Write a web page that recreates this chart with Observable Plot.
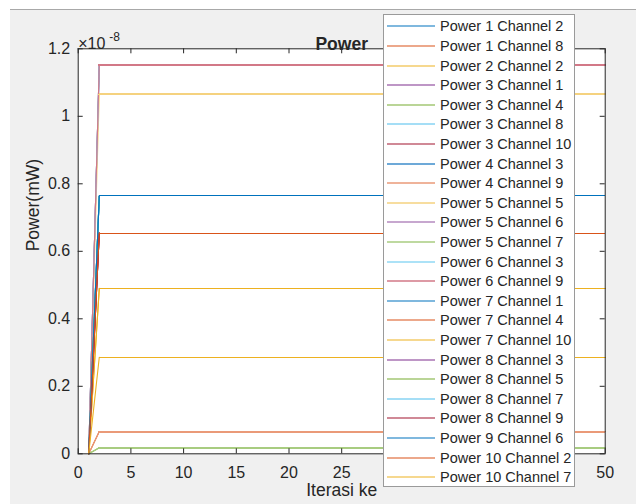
<!DOCTYPE html>
<html>
<head>
<meta charset="utf-8">
<script src="https://cdn.jsdelivr.net/npm/d3@7"></script>
<script src="https://cdn.jsdelivr.net/npm/@observablehq/plot@0.6"></script>
<style>
  html, body { margin: 0; padding: 0; background: #ffffff; }
  #wrap { position: relative; width: 636px; height: 504px; overflow: hidden; }
  #chart svg { display: block; background: #f0f0f0; }
  .strip { position: absolute; background: #ffffff; }
  #legend {
    position: absolute; left: 383px; top: 14px; width: 192px; height: 473px;
    background: #ffffff; border: 1px solid #9a9a9a; box-sizing: border-box;
    font-family: "Liberation Sans", Arial, sans-serif; font-size: 14.5px; color: #262626;
    padding-top: 1.5px;
  }
  .item { height: 19.62px; display: flex; align-items: center; white-space: nowrap; }
  .item svg { margin-left: 3px; margin-right: 5px; flex: none; }
</style>
</head>
<body>
<div id="wrap">
  <div id="chart"></div>
  <div class="strip" style="left:0;top:0;width:636px;height:9px;border-bottom:1px solid #a8a8a8;"></div>
  <div class="strip" style="left:0;top:0;width:10px;height:504px;"></div>
  <div id="legend"></div>
</div>
<script>
// ---- data ----
const series = [
  "Power 1 Channel 2", "Power 1 Channel 8", "Power 2 Channel 2", "Power 3 Channel 1",
  "Power 3 Channel 4", "Power 3 Channel 8", "Power 3 Channel 10", "Power 4 Channel 3",
  "Power 4 Channel 9", "Power 5 Channel 5", "Power 5 Channel 6", "Power 5 Channel 7",
  "Power 6 Channel 3", "Power 6 Channel 9", "Power 7 Channel 1", "Power 7 Channel 4",
  "Power 7 Channel 10", "Power 8 Channel 3", "Power 8 Channel 5", "Power 8 Channel 7",
  "Power 8 Channel 9", "Power 9 Channel 6", "Power 10 Channel 2", "Power 10 Channel 7"
];
// iterations where the lines change slope (start, jump, end)
const iterations = [1, 2, 50];
// power at iteration 1 (all series start at zero)
const startPower = [0, 0, 0, 0, 0, 0, 0, 0, 0, 0, 0, 0, 0, 0, 0, 0, 0, 0, 0, 0, 0, 0, 0, 0];
// steady power from iteration 2 on (mW)
const steadyPower = [
  0.764e-8, 0.066e-8, 0.490e-8, 0.654e-8,
  0.018e-8, 0.764e-8, 1.152e-8, 1.152e-8,
  0.066e-8, 1.065e-8, 1.152e-8, 0.018e-8,
  1.152e-8, 1.152e-8, 0.764e-8, 0.654e-8,
  0.490e-8, 0.654e-8, 0.764e-8, 0.764e-8,
  0.654e-8, 0.764e-8, 0.654e-8, 0.286e-8
];
const xTicks = [0, 5, 10, 15, 20, 25, 30, 35, 40, 45, 50];
const yTicks = [0, 0.2e-8, 0.4e-8, 0.6e-8, 0.8e-8, 1.0e-8, 1.2e-8];
const yExponent = -8;
const titleText = "Power";
const xLabel = "Iterasi ke";
const yLabel = "Power(mW)";

// ---- styles ----
const palette = [
  "#0072BD", "#D95319", "#EDB120", "#7E2F8E", "#77AC30", "#4DBEEE", "#A2142F",
  "#3C8DCB", "#EA9A78", "#F5D27F", "#B58ABF", "#A8CC80", "#90D8F5", "#D27887",
  "#0072BD", "#D95319", "#EDB120", "#7E2F8E", "#77AC30", "#4DBEEE", "#A2142F",
  "#0072BD", "#D95319", "#EDB120"
];
const widths = series.map((s, i) => (i >= 7 && i <= 13) ? 2 : 1);

const rows = [];
series.forEach((s, i) => {
  iterations.forEach((it, k) => {
    rows.push({series: s, iter: it, power: k === 0 ? startPower[i] : steadyPower[i], w: widths[i]});
  });
});

const scaleF = Math.pow(10, -yExponent);
const yFmt = d => d3.format("~g")(+(d * scaleF).toFixed(4));
const font = "'Liberation Sans', Arial, sans-serif";
const ink = "#262626";

const W = 636, H = 504, mL = 77.7, mR = 31.3, mT = 48.3, mB = 50.7;
const frameW = W - mL - mR, frameH = H - mT - mB, tick = 5;

const lineOpts = {x: "iter", y: "power", z: "series", stroke: "series", strokeWidth: "w"};

const chart = Plot.plot({
  width: W, height: H,
  marginLeft: mL, marginRight: mR, marginTop: mT, marginBottom: mB,
  style: {background: "#f0f0f0", fontFamily: font, color: ink, overflow: "visible"},
  x: {domain: [0, 50], ticks: xTicks},
  y: {domain: [0, 1.2e-8], ticks: yTicks},
  color: {domain: series, range: palette},
  marks: [
    Plot.frame({fill: "white", stroke: null}),
    // rising part (iteration 1 -> 2), antialiased
    Plot.line(rows.filter(d => d.iter <= 2), {...lineOpts, strokeWidth: 1.1}),
    // steady part (iteration 2 -> 50), pixel-crisp so overlapping lines don't darken
    Plot.line(rows.filter(d => d.iter >= 2), {...lineOpts, shapeRendering: "crispEdges"}),
    Plot.frame({stroke: ink, strokeWidth: 1}),
    // inward ticks on all four sides
    Plot.tickX(xTicks, {x: d => d, insetTop: frameH - tick, stroke: ink}),
    Plot.tickX(xTicks, {x: d => d, insetBottom: frameH - tick, stroke: ink}),
    Plot.tickY(yTicks, {y: d => d, insetLeft: frameW - tick, stroke: ink}),
    Plot.tickY(yTicks, {y: d => d, insetRight: frameW - tick, stroke: ink}),
    Plot.axisX({anchor: "bottom", ticks: xTicks, tickSize: 0, tickPadding: 13, fontSize: 16, label: null, fill: ink}),
    Plot.axisY({anchor: "left", ticks: yTicks, tickSize: 0, tickPadding: 8, fontSize: 16, tickFormat: yFmt, label: null, fill: ink}),
    Plot.text([titleText], {frameAnchor: "top", dy: -11, fontSize: 17.5, fontWeight: "bold", fill: ink}),
    Plot.text(["\u00d710"], {frameAnchor: "top-left", dx: 0, dy: -11, textAnchor: "start", fontSize: 16, fill: ink}),
    Plot.text([String(yExponent)], {frameAnchor: "top-left", dx: 31, dy: -16, textAnchor: "start", fontSize: 12, fill: ink}),
    Plot.text([yLabel], {frameAnchor: "left", dx: -45.2, rotate: -90, fontSize: 17.5, fill: ink}),
    Plot.text([xLabel], {frameAnchor: "bottom", dy: 42.5, fontSize: 17.5, fill: ink})
  ]
});
document.getElementById("chart").appendChild(chart);

// legend
const legend = document.getElementById("legend");
series.forEach((s, i) => {
  const row = document.createElement("div");
  row.className = "item";
  row.innerHTML = `<svg width="48" height="4"><line x1="0" x2="48" y1="2" y2="2" stroke="${palette[i]}" stroke-width="${widths[i] === 2 ? 1.6 : 1.1}"/></svg><span>${s}</span>`;
  legend.appendChild(row);
});
</script>
</body>
</html>
